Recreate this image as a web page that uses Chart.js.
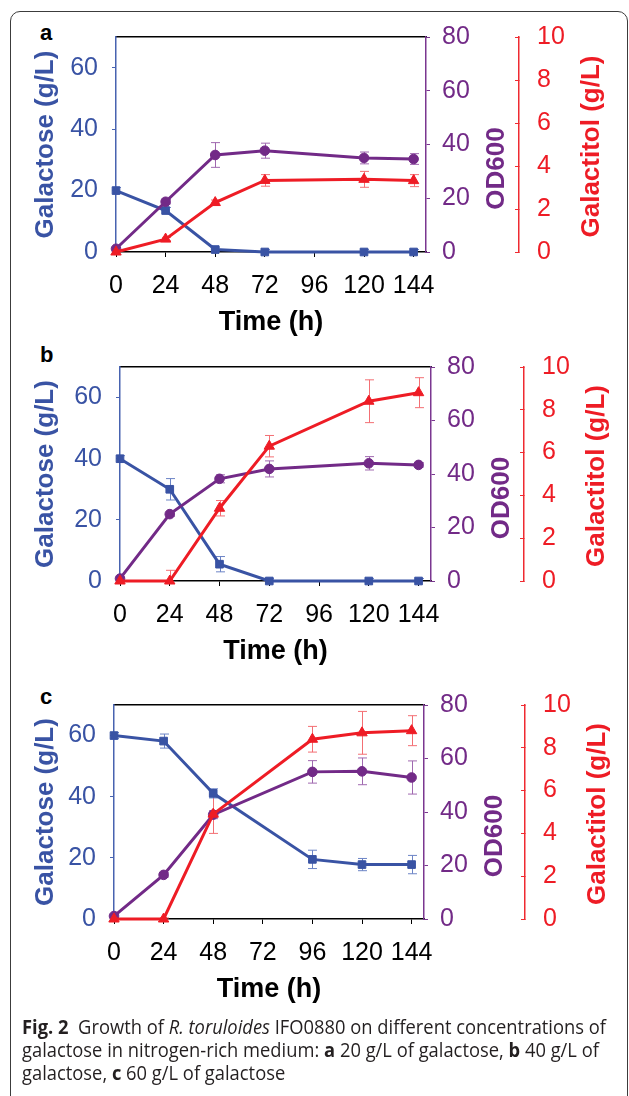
<!DOCTYPE html>
<html><head><meta charset="utf-8">
<script src="https://cdn.jsdelivr.net/npm/chart.js@4.4.1/dist/chart.umd.min.js"></script>
<style>
html,body{margin:0;padding:0;background:#fff;}
#wrap{position:relative;width:629px;height:1096px;overflow:hidden;background:#fff;}
#frame{position:absolute;left:10px;top:11px;width:618px;height:1120px;border:1.3px solid #3c3c3c;border-radius:10px;box-sizing:border-box;}
canvas{position:absolute;left:0;}
.lbl{position:absolute;left:40px;font:bold 22px "Liberation Sans",Arial,sans-serif;color:#000;line-height:22px;}
.cap{position:absolute;left:22px;font-family:"Open Sans",sans-serif;font-size:19.5px;line-height:22px;color:#231f20;white-space:nowrap;transform-origin:0 50%;}
</style></head>
<body>
<div id="wrap">
  <div id="frame"></div>
  <div class="lbl" style="top:22px">a</div>
  <div class="lbl" style="top:344px">b</div>
  <div class="lbl" style="top:686px">c</div>
  <canvas id="ca"></canvas>
  <canvas id="cb"></canvas>
  <canvas id="cc"></canvas>
  <div class="cap" id="l1" style="top:1016px"><b>Fig. 2</b>&nbsp; Growth of <i>R. toruloides</i> IFO0880 on different concentrations of</div>
  <div class="cap" id="l2" style="top:1039px">galactose in nitrogen-rich medium: <b>a</b> 20 g/L of galactose, <b>b</b> 40 g/L of</div>
  <div class="cap" id="l3" style="top:1062px">galactose, <b>c</b> 60 g/L of galactose</div>
</div>
<script>
// ---------- data ----------
const timesAB = [0, 24, 48, 72, 120, 144];
const timesC  = [0, 24, 48, 96, 120, 144];
const xTicks = [0, 24, 48, 72, 96, 120, 144];
const galactoseTicks = [0, 20, 40, 60];
const od600Ticks = [0, 20, 40, 60, 80];
const galactitolTicks = [0, 2, 4, 6, 8, 10];

// panel a (20 g/L)
const galactoseA    = [20, 13.5, 0.8, 0, 0, 0];
const galactoseAErr = [1.0, 1.0, 0.8, 0.8, 0.8, 0.8];
const od600A        = [1.2, 18.7, 36.1, 37.7, 35.0, 34.6];
const od600AErr     = [0.6, 0.8, 4.6, 2.8, 2.2, 2.0];
const galactitolA   = [0, 0.6, 2.3, 3.33, 3.38, 3.32];
const galactitolAErr= [0.05, 0.08, 0.12, 0.27, 0.37, 0.28];

// panel b (40 g/L)
const galactoseB    = [40, 30, 5.5, 0, 0, 0];
const galactoseBErr = [1.0, 3.5, 2.5, 0.8, 0.8, 0.8];
const od600B        = [0.9, 25, 38.2, 41.9, 44, 43.4];
const od600BErr     = [0.6, 0.8, 1.5, 3.0, 2.5, 0.8];
const galactitolB   = [0, 0, 3.4, 6.3, 8.4, 8.8];
const galactitolBErr= [0.05, 0.5, 0.36, 0.5, 1.0, 0.7];

// panel c (60 g/L)
const galactoseC    = [60, 58.2, 41.1, 19.5, 17.8, 17.8];
const galactoseCErr = [1.0, 2.3, 1.5, 3.0, 2.0, 3.0];
const od600C        = [1.1, 16.5, 39.0, 55, 55.2, 52.9];
const od600CErr     = [0.6, 0.8, 1.5, 4.2, 5.0, 6.2];
const galactitolC   = [0, 0, 4.9, 8.4, 8.7, 8.8];
const galactitolCErr= [0.05, 0.05, 0.9, 0.6, 1.0, 0.7];

// ---------- styles ----------
const FONT = "'Liberation Sans', Arial, sans-serif";
const BLUE = '#3953a4', BLUE_AX = '#4863b0', BLUE_ERR = '#6c84c6';
const PURPLE = '#722a87', PURPLE_AX = '#7a3790', PURPLE_ERR = '#a069b0';
const RED = '#ee1c25', RED_AX = '#ef2a31', RED_ERR = '#f36f74';
Chart.defaults.font.family = FONT;

const errorBars = {
  id: 'errorBars',
  beforeDatasetsDraw(chart) {
    const ctx = chart.ctx, ca = chart.chartArea;
    ctx.save();
    ctx.beginPath();
    ctx.rect(ca.left, ca.top, ca.right - ca.left, ca.bottom - ca.top);
    ctx.clip();
    chart.data.datasets.forEach((ds, i) => {
      if (!ds.errors) return;
      const meta = chart.getDatasetMeta(i);
      const ys = chart.scales[ds.yAxisID];
      ctx.strokeStyle = ds.errorColor;
      ctx.lineWidth = 1;
      meta.data.forEach((pt, j) => {
        const v = ds.data[j].y, e = ds.errors[j];
        const x = Math.round(pt.x) + 0.5;
        const y1 = ys.getPixelForValue(v - e), y2 = ys.getPixelForValue(v + e);
        ctx.beginPath();
        ctx.moveTo(x, y1); ctx.lineTo(x, y2);
        ctx.moveTo(x - 4.5, y1); ctx.lineTo(x + 4.5, y1);
        ctx.moveTo(x - 4.5, y2); ctx.lineTo(x + 4.5, y2);
        ctx.stroke();
      });
    });
    ctx.restore();
  }
};

const sideTitles = {
  id: 'sideTitles',
  afterDraw(chart, args, opts) {
    const ctx = chart.ctx, ca = chart.chartArea;
    (opts.items || []).forEach(it => {
      const s = chart.scales[it.scale];
      ctx.save();
      ctx.font = "bold 26px " + FONT;
      ctx.fillStyle = it.color;
      ctx.textAlign = 'center';
      ctx.textBaseline = 'middle';
      ctx.translate(s.left + it.dx, (ca.top + ca.bottom) / 2 + it.dy);
      ctx.rotate(-Math.PI / 2);
      ctx.fillText(it.text, 0, 0);
      ctx.restore();
    });
  }
};

function pts(t, v) { return t.map((x, i) => ({x: x, y: v[i]})); }
function setTicks(arr) { return s => { s.ticks = arr.map(v => ({value: v})); }; }

function makePanel(p, times, gal, galErr, od, odErr, galt, galtErr) {
  const cv = document.getElementById(p.id);
  const H = (p.B - p.top) + 93;
  cv.width = 629; cv.height = H;
  cv.style.top = p.top + 'px';
  cv.style.width = '629px'; cv.style.height = H + 'px';
  new Chart(cv.getContext('2d'), {
    type: 'line',
    data: {datasets: [
      {label: 'Galactitol (g/L)', data: pts(times, galt), yAxisID: 'yR', xAxisID: 'x',
       borderColor: RED, backgroundColor: RED, pointStyle: 'triangle', pointRadius: 6,
       pointBorderWidth: 1, borderWidth: 3, errors: galtErr, errorColor: RED_ERR, clip: false},
      {label: 'OD600', data: pts(times, od), yAxisID: 'yP', xAxisID: 'x',
       borderColor: PURPLE, backgroundColor: PURPLE, pointStyle: 'circle', pointRadius: 4.8,
       pointBorderWidth: 1, borderWidth: 3, errors: odErr, errorColor: PURPLE_ERR, clip: false},
      {label: 'Galactose (g/L)', data: pts(times, gal), yAxisID: 'yL', xAxisID: 'x',
       borderColor: BLUE, backgroundColor: BLUE, pointStyle: 'rect', pointRadius: 5.4,
       pointBorderWidth: 1, borderWidth: 3, errors: galErr, errorColor: BLUE_ERR, clip: false}
    ]},
    options: {
      responsive: false, animation: false, devicePixelRatio: 1,
      layout: {padding: {top: p.T - p.top, left: 0, right: 0, bottom: 0}},
      elements: {line: {tension: 0}},
      plugins: {
        legend: {display: false}, tooltip: {enabled: false},
        sideTitles: {items: [
          {scale: 'yP', text: 'OD600', color: PURPLE, dx: 71, dy: 24},
          {scale: 'yR', text: 'Galactitol (g/L)', color: RED, dx: 73, dy: 2}
        ]}
      },
      scales: {
        x: {type: 'linear', position: 'bottom', min: 0, max: 150,
          afterBuildTicks: setTicks(xTicks),
          afterFit: s => { s.height = 93; },
          ticks: {color: '#000', font: {size: 25}, padding: 14, autoSkip: false, maxRotation: 0},
          grid: {display: true, drawOnChartArea: false, drawTicks: true, tickLength: 5, color: '#000'},
          border: {display: true, color: '#000', width: 1.5},
          title: {display: true, text: 'Time (h)', color: '#000', font: {size: 27, weight: 'bold'}, padding: {top: 0, bottom: 6}}
        },
        xTop: {type: 'linear', position: 'top', min: 0, max: 150,
          afterFit: s => { s.height = 0; },
          ticks: {display: false}, grid: {display: false, drawTicks: false, tickLength: 0},
          border: {display: true, color: '#000', width: 1.5}
        },
        yL: {type: 'linear', position: 'left', min: 0, max: 70,
          afterBuildTicks: setTicks(galactoseTicks),
          afterFit: s => { s.width = p.L; },
          ticks: {color: BLUE, font: {size: 25}, padding: 14},
          grid: {display: true, drawOnChartArea: false, tickLength: 4, color: BLUE_AX},
          border: {display: true, color: BLUE_AX, width: 1.5},
          title: {display: true, text: 'Galactose (g/L)', color: BLUE, font: {size: 26, weight: 'bold'}, padding: {top: 30, bottom: 0}}
        },
        yP: {type: 'linear', position: 'right', weight: 1, min: 0, max: 80,
          afterBuildTicks: setTicks(od600Ticks),
          afterFit: s => { s.width = p.RX - p.R; },
          ticks: {color: PURPLE, font: {size: 25}, padding: 12},
          grid: {display: true, drawOnChartArea: false, tickLength: 4, color: PURPLE_AX},
          border: {display: true, color: PURPLE_AX, width: 1.5}
        },
        yR: {type: 'linear', position: 'right', weight: 2, min: 0, max: 10,
          afterBuildTicks: setTicks(galactitolTicks),
          afterFit: s => { s.width = 629 - p.RX; },
          ticks: {color: RED, font: {size: 25}, padding: 22},
          grid: {display: true, drawOnChartArea: false, tickLength: -4, color: RED_AX},
          border: {display: true, color: RED_AX, width: 1.5}
        }
      }
    },
    plugins: [errorBars, sideTitles]
  });
}

makePanel({id: 'ca', top: 0,   L: 116, R: 426, RX: 519, T: 36,  B: 252}, timesAB, galactoseA, galactoseAErr, od600A, od600AErr, galactitolA, galactitolAErr);
makePanel({id: 'cb', top: 330, L: 120, R: 431, RX: 524, T: 366, B: 581}, timesAB, galactoseB, galactoseBErr, od600B, od600BErr, galactitolB, galactitolBErr);
makePanel({id: 'cc', top: 668, L: 114, R: 424, RX: 525, T: 704, B: 919}, timesC, galactoseC, galactoseCErr, od600C, od600CErr, galactitolC, galactitolCErr);

// caption: fit first line to the measured width, same scale for all lines
(function () {
  const l1 = document.getElementById('l1');
  const w = l1.getBoundingClientRect().width;
  const k = 584 / w;
  ['l1', 'l2', 'l3'].forEach(id => {
    document.getElementById(id).style.transform = 'scaleX(' + k + ')';
  });
})();
</script>
</body></html>
